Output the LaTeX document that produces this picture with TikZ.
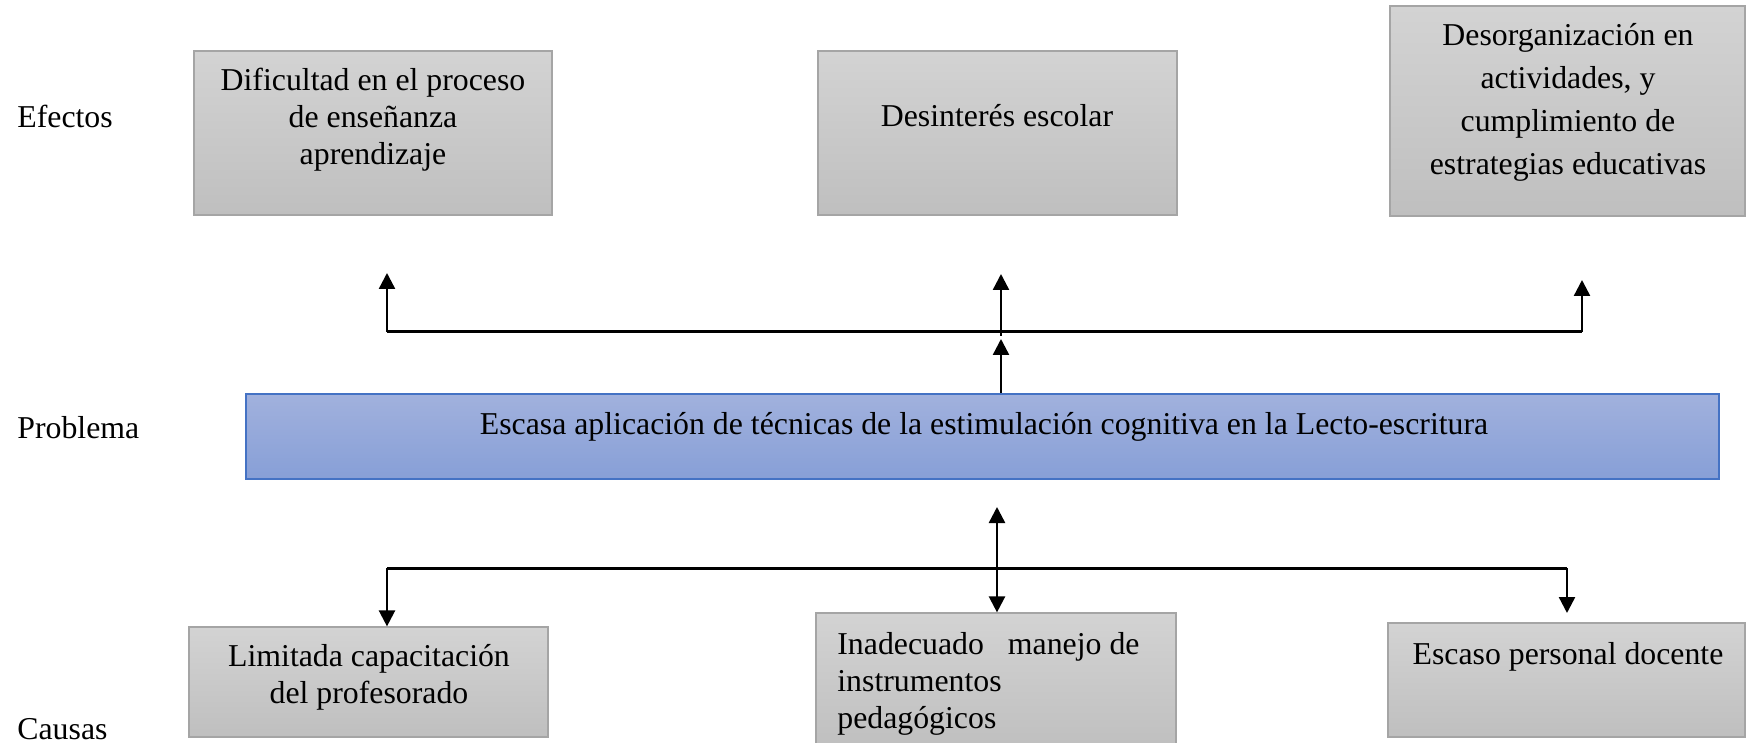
\documentclass[tikz,border=0pt]{standalone}
\usepackage{fontspec}
\setmainfont{Liberation Serif}
\usetikzlibrary{arrows.meta}
\definecolor{grisarriba}{HTML}{D3D3D3}
\definecolor{grisabajo}{HTML}{BFBFBF}
\definecolor{grisborde}{HTML}{A5A5A5}
\definecolor{azularriba}{HTML}{A1B1DD}
\definecolor{azulabajo}{HTML}{879FD7}
\definecolor{azulborde}{HTML}{4472C4}
\begin{document}
\begin{tikzpicture}[x=0.5pt,y=-0.5pt,
  caja/.style={draw=grisborde,line width=0.6pt,top color=grisarriba,bottom color=grisabajo,inner sep=0pt},
  cajaprob/.style={draw=azulborde,line width=0.8pt,top color=azularriba,bottom color=azulabajo,inner sep=0pt},
  texto/.style={inner sep=0pt,anchor=base,align=center,font=\fontsize{15.9}{18.5}\selectfont},
  rotulo/.style={inner sep=0pt,anchor=base west,font=\fontsize{15.9}{18.5}\selectfont},
  linea/.style={line width=1.5pt},
  flecha/.style={line width=1.2pt,-{Triangle[length=8pt,width=8pt]}},
  flechas/.style={line width=1.2pt,{Triangle[length=8pt,width=8pt]}-{Triangle[length=8pt,width=8pt]}}]
\useasboundingbox (0,0) rectangle (1747,743);

% rotulos
\node[rotulo] (lef) at (17,128) {Efectos};
\node[rotulo] (lpr) at (17,438) {Problema};
\node[rotulo] (lca) at (17,739) {Causas};

% efectos
\node[caja,minimum width=179pt,minimum height=82pt] (ef1) at (373,133) {};
\node[caja,minimum width=179.5pt,minimum height=82pt] (ef2) at (997.5,133) {};
\node[caja,minimum width=177.5pt,minimum height=105pt] (ef3) at (1567.5,111) {};
\node[texto] (ef1t) at (373,165) {Dificultad en el proceso\\de enseñanza\\aprendizaje};
\node[texto] (ef2t) at (997,127) {Desinterés escolar};
\node[texto,font=\fontsize{15.9}{21.5}\selectfont] (ef3t) at (1568,175)
  {Desorganización en\\actividades, y\\cumplimiento de\\estrategias educativas};

% problema
\node[cajaprob,minimum width=736.5pt,minimum height=42.5pt] (prob) at (982.5,436.5) {};
\node[texto] (probt) at (984,435)
  {Escasa aplicación de técnicas de la estimulación cognitiva en la Lecto-escritura};

% causas
\node[caja,minimum width=179.5pt,minimum height=55pt] (ca1) at (368.5,682) {};
\node[caja,minimum width=180pt,minimum height=68.5pt] (ca2) at (996,681.5) {};
\node[caja,minimum width=178.5pt,minimum height=57pt] (ca3) at (1566.5,680) {};
\node[texto] (ca1t) at (369,703)
  {Limitada capacitación\\del profesorado};
\node[texto,anchor=base west,align=left] (ca2t) at (837,728)
  {Inadecuado\hspace{12pt}manejo de\\instrumentos\\pedagógicos};
\node[texto] (ca3t) at (1568,664) {Escaso personal docente};

% conectores de efectos
\coordinate (eL) at (387,332);
\coordinate (eM) at (1001,332);
\coordinate (eR) at (1582,332);
\coordinate (fL) at (387,273);
\coordinate (fM) at (1001,274);
\coordinate (fR) at (1582,280);
\coordinate (pM) at (1001,339);
\draw[linea] (eL) -- (eR);
\draw[flecha] (eL) -- (fL);
\draw[flecha] ([yshift=-2]eM) -- (fM);
\draw[flecha] (eR) -- (fR);
\draw[flecha] (prob.north -| pM) -- (pM);

% conectores de causas
\coordinate (cL) at (387,568);
\coordinate (cR) at (1567,568);
\coordinate (cM) at (997,507);
\coordinate (dR) at (1567,613);
\draw[linea] (cL) -- (cR);
\draw[flecha] (cL) -- (ca1.north -| cL);
\draw[flecha] (cR) -- (dR);
\draw[flechas] (cM) -- (ca2.north -| cM);
\end{tikzpicture}
\end{document}
